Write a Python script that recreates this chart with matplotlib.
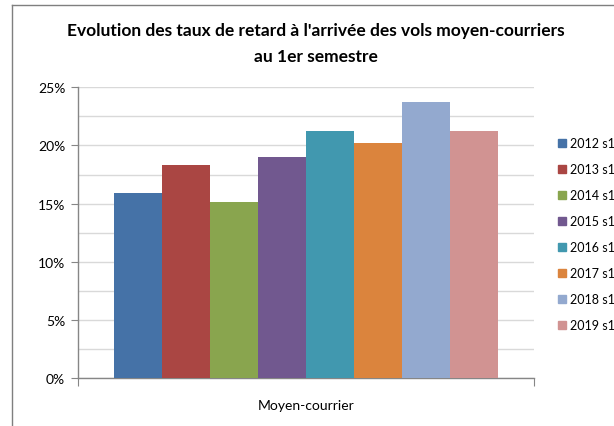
import matplotlib
matplotlib.use("Agg")
import matplotlib.pyplot as plt
from matplotlib.ticker import MultipleLocator, FuncFormatter
from matplotlib.patches import Rectangle
from matplotlib.lines import Line2D

title = "Evolution des taux de retard à l'arrivée des vols moyen-courriers\nau 1er semestre"
category = "Moyen-courrier"
series = ["2012 s1", "2013 s1", "2014 s1", "2015 s1", "2016 s1", "2017 s1", "2018 s1", "2019 s1"]
values = [15.9, 18.3, 15.1, 19.0, 21.2, 20.2, 23.7, 21.2]
colors = ["#4572A7", "#AA4643", "#89A54E", "#71588F", "#4198AF", "#DB843D", "#93A9CF", "#D19392"]

plt.rcParams['font.family'] = ['Lato', 'DejaVu Sans']

W, H = 614, 427
fig = plt.figure(figsize=(W/100, H/100), dpi=100)
fig.patch.set_facecolor("white")

# outer border (top and left visible)
fig.add_artist(Line2D([12/W, 12/W], [0, 1 - 6/H], color="#7f7f7f", lw=1, transform=fig.transFigure))
fig.add_artist(Line2D([12/W, 1], [1 - 6/H, 1 - 6/H], color="#7f7f7f", lw=1, transform=fig.transFigure))

x0, x1 = 77.7, 534.3
y_top, y_bot = 88.3, 379
ax = fig.add_axes([x0/W, 1 - y_bot/H, (x1 - x0)/W, (y_bot - y_top)/H])

n = len(series)
group = 0.841
bw = group / n
for i, (s, v, c) in enumerate(zip(series, values, colors)):
    xc = -group/2 + bw*(i + 0.5)
    ax.bar(xc, v, width=bw, color=c, label=s, zorder=3, linewidth=0)

ax.set_xlim(-0.5, 0.5)
ax.set_ylim(0, 25)
ax.yaxis.set_major_locator(MultipleLocator(5))
ax.yaxis.set_minor_locator(MultipleLocator(2.5))
ax.yaxis.set_major_formatter(FuncFormatter(lambda v, p: f"{int(v)}%"))
ax.grid(axis="y", which="both", color="#d9d9d9", lw=1, zorder=0)
ax.tick_params(axis="y", which="major", length=5, color="#868686", labelsize=10, pad=4, labelcolor="#000000")
ax.tick_params(axis="y", which="minor", length=0)

ax.set_xticks([-0.5, 0.5], minor=False)
ax.set_xticklabels(["", ""])
ax.set_xticks([0], minor=True)
ax.set_xticklabels([category], minor=True, fontsize=10)
ax.tick_params(axis="x", which="major", length=6, color="#868686", direction="out")
ax.tick_params(axis="x", which="minor", length=0, pad=15)

for side in ["top", "right"]:
    ax.spines[side].set_visible(False)
for side in ["left", "bottom"]:
    ax.spines[side].set_color("#868686")
    ax.spines[side].set_linewidth(1)

handles = [Rectangle((0, 0), 1, 1, color=c) for c in colors]
leg = fig.legend(handles, series, loc="upper left", bbox_to_anchor=(558/W, 1 - 138/H),
                 frameon=False, fontsize=9, handlelength=0.6, handleheight=0.6,
                 handletextpad=0.35, labelspacing=1.12, borderaxespad=0, borderpad=0)

fig.text(316/W, 1 - 44/H, title, ha="center", va="center", fontsize=12.5, fontweight="bold",
         linespacing=1.75)

fig.savefig("out.png", dpi=100, facecolor="white")
